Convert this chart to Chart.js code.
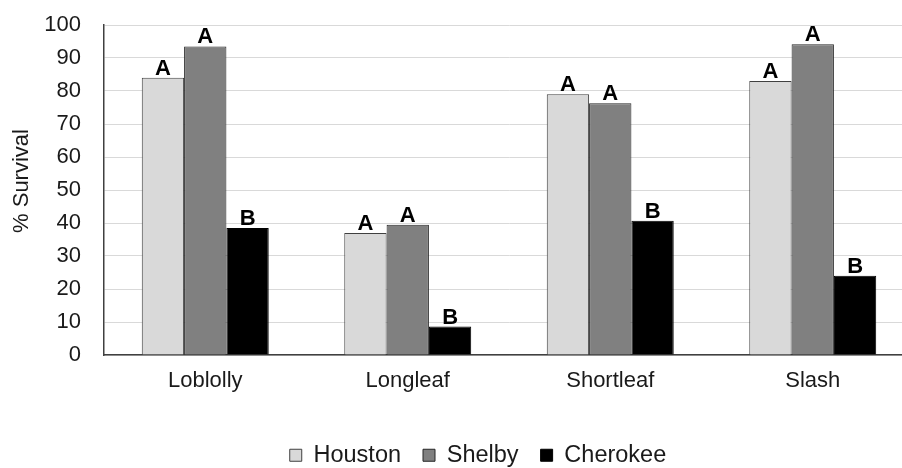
<!DOCTYPE html>
<html>
<head>
<meta charset="utf-8">
<script src="https://cdn.jsdelivr.net/npm/chart.js@4"></script>
<style>
  html, body { margin: 0; padding: 0; background: #fff; overflow: hidden; }
  #wrap { position: relative; width: 914px; height: 477px; }
</style>
</head>
<body>
<div id="wrap"><canvas id="c"></canvas></div>
<script>
const categories = ["Loblolly", "Longleaf", "Shortleaf", "Slash"];
const seriesNames = ["Houston", "Shelby", "Cherokee"];
const houston = [84, 37, 79, 83];
const shelby = [93.5, 39.5, 76.3, 94.2];
const cherokee = [38.5, 8.6, 40.7, 24];
const houstonLetters = ["A", "A", "A", "A"];
const shelbyLetters = ["A", "A", "A", "A"];
const cherokeeLetters = ["B", "B", "B", "B"];
const yTicks = [0, 10, 20, 30, 40, 50, 60, 70, 80, 90, 100];
const yTitle = "% Survival";

const letterSets = [houstonLetters, shelbyLetters, cherokeeLetters];
const FONT = '"Liberation Sans", Arial, sans-serif';

const letterPlugin = {
  id: 'letters',
  afterDatasetsDraw(chart) {
    const ctx = chart.ctx;
    ctx.save();
    ctx.font = 'bold 22px ' + FONT;
    ctx.fillStyle = '#000';
    ctx.textAlign = 'center';
    ctx.textBaseline = 'alphabetic';
    chart.data.datasets.forEach((ds, i) => {
      const meta = chart.getDatasetMeta(i);
      meta.data.forEach((bar, j) => {
        ctx.fillText(letterSets[i][j], bar.x, bar.y - 3);
      });
    });
    ctx.restore();
  }
};

const titlePlugin = {
  id: 'ytitle',
  afterDraw(chart) {
    const ctx = chart.ctx;
    const a = chart.chartArea;
    ctx.save();
    ctx.font = '22px ' + FONT;
    ctx.fillStyle = '#1a1a1a';
    ctx.textAlign = 'center';
    ctx.textBaseline = 'middle';
    ctx.translate(22, (a.top + a.bottom) / 2 - 9);
    ctx.rotate(-Math.PI / 2);
    ctx.fillText(yTitle, 0, 0);
    ctx.restore();
  }
};

new Chart(document.getElementById('c'), {
  type: 'bar',
  data: {
    labels: categories,
    datasets: [
      { label: seriesNames[0], data: houston, backgroundColor: '#d9d9d9', borderColor: '#404040', borderWidth: 1 },
      { label: seriesNames[1], data: shelby, backgroundColor: '#808080', borderColor: '#262626', borderWidth: 1 },
      { label: seriesNames[2], data: cherokee, backgroundColor: '#000000', borderColor: '#000000', borderWidth: 1 }
    ]
  },
  options: {
    responsive: true,
    maintainAspectRatio: false,
    animation: false,
    layout: { padding: { left: 42, right: 0, top: 25, bottom: 0 } },
    datasets: { bar: { categoryPercentage: 0.627, barPercentage: 1.0 } },
    plugins: {
      tooltip: { enabled: false },
      legend: {
        position: 'bottom',
        labels: {
          font: { family: FONT, size: 23.5 },
          color: '#1a1a1a',
          boxWidth: 12,
          boxHeight: 12,
          padding: 22
        }
      }
    },
    scales: {
      x: {
        grid: { display: false, drawTicks: false },
        border: { display: true, color: '#404040', width: 1.5 },
        ticks: {
          font: { family: FONT, size: 22 },
          color: '#1a1a1a',
          padding: 13
        },
        afterFit(scale) { scale.height = 66.5; scale.paddingLeft = 0; scale.paddingRight = 0; }
      },
      y: {
        min: 0, max: 100,
        afterBuildTicks(scale) { scale.ticks = yTicks.map(v => ({ value: v })); },
        grid: { color: '#d9d9d9', lineWidth: 1, drawTicks: false },
        border: { display: true, color: '#404040', width: 1.5 },
        ticks: {
          font: { family: FONT, size: 22 },
          color: '#1a1a1a',
          padding: 23
        },
        afterFit(scale) { scale.width = 62; scale.paddingTop = 0; scale.paddingBottom = 0; }
      }
    }
  },
  plugins: [letterPlugin, titlePlugin]
});
</script>
</body>
</html>
